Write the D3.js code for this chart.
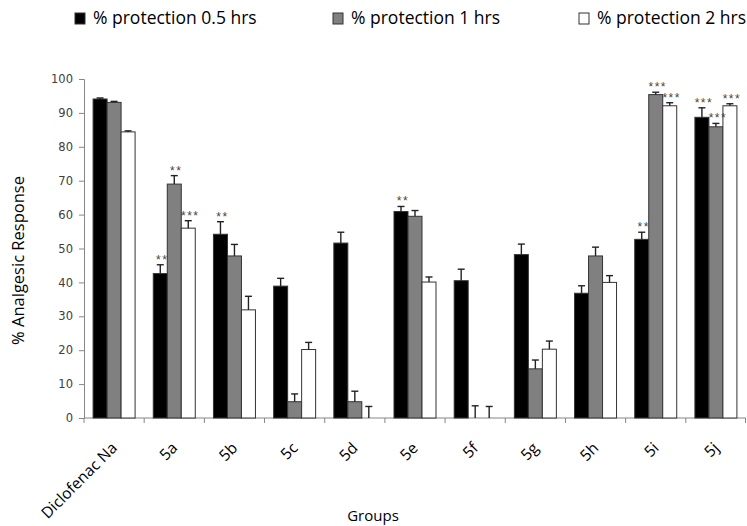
<!DOCTYPE html>
<html>
<head>
<meta charset="utf-8">
<script src="https://cdn.jsdelivr.net/npm/d3@7"></script>
<style>
  html, body { margin: 0; padding: 0; background: #fff; }
  svg { display: block; }
  text { font-family: "Open Sans", "Liberation Sans", sans-serif; }
</style>
</head>
<body>
<div id="chart"></div>
<script>
// groups on the x axis
const groups = ["Diclofenac Na", "5a", "5b", "5c", "5d", "5e", "5f", "5g", "5h", "5i", "5j"];
const series = ["% protection 0.5 hrs", "% protection 1 hrs", "% protection 2 hrs"];

// values
const values05 = [94.1, 42.6, 54.2, 38.9, 51.6, 60.9, 40.5, 48.2, 36.8, 52.7, 88.7];
const values1 = [93.1, 69.0, 47.8, 4.8, 4.8, 59.5, 0, 14.5, 47.8, 95.4, 85.9];
const values2 = [84.4, 56.0, 31.9, 20.2, 0, 40.1, 0, 20.3, 40.0, 92.1, 92.1];
const errors05 = [0.3, 2.6, 3.7, 2.3, 3.2, 1.5, 3.4, 3.1, 2.2, 2.1, 2.8];
const errors1 = [0.3, 2.5, 3.4, 2.3, 3.1, 1.7, 3.6, 2.6, 2.6, 0.7, 1.0];
const errors2 = [0.3, 2.2, 4.0, 2.1, 3.4, 1.5, 3.4, 2.4, 2.0, 0.9, 0.6];
const stars05 = ["", "**", "**", "", "", "**", "", "", "", "**", "***"];
const stars1 = ["", "**", "", "", "", "", "", "", "", "***", "***"];
const stars2 = ["", "***", "", "", "", "", "", "", "", "***", "***"];
const yTicks = [0, 10, 20, 30, 40, 50, 60, 70, 80, 90, 100];

const colors = ["#000000", "#808080", "#ffffff"];

const width = 747;
const height = 526;
const margin = { top: 79, right: 1, bottom: 108, left: 84 };

const svg = d3.select("#chart")
    .append("svg")
    .attr("width", width)
    .attr("height", height);

const x0 = d3.scaleBand()
    .domain(groups)
    .range([margin.left, width - margin.right])
    .paddingInner(0)
    .paddingOuter(0);

const x1 = d3.scaleBand()
    .domain(series)
    .range([0, x0.bandwidth()])
    .paddingInner(0)
    .paddingOuter(0.65);

const y = d3.scaleLinear()
    .domain([0, 100])
    .range([height - margin.bottom, margin.top]);

// flatten into rows
const rows = [];
groups.forEach((g, i) => {
    [values05, values1, values2].forEach((vals, s) => {
        rows.push({
            group: g,
            series: series[s],
            s: s,
            value: vals[i],
            err: [errors05, errors1, errors2][s][i],
            star: [stars05, stars1, stars2][s][i]
        });
    });
});

// y axis
const yAxis = svg.append("g")
    .attr("transform", `translate(${margin.left},0)`)
    .call(d3.axisLeft(y).tickValues(yTicks).tickSize(5).tickPadding(6));
yAxis.select(".domain").attr("stroke", "#868686");
yAxis.selectAll(".tick line").attr("stroke", "#868686");
yAxis.selectAll(".tick text")
    .attr("fill", "#404040")
    .style("font-family", "DejaVu Sans, sans-serif")
    .style("font-size", "11.5px");

// x axis: ticks at category boundaries
const xAxis = svg.append("g");
xAxis.append("line")
    .attr("x1", x0.range()[0]).attr("x2", x0.range()[1])
    .attr("y1", y(0)).attr("y2", y(0))
    .attr("stroke", "#868686");
xAxis.selectAll("line.tk")
    .data(groups.concat(["end"]))
    .enter().append("line")
    .attr("class", "tk")
    .attr("x1", (d, i) => i < groups.length ? x0(d) : x0.range()[1] - 0.5)
    .attr("x2", (d, i) => i < groups.length ? x0(d) : x0.range()[1] - 0.5)
    .attr("y1", y(0)).attr("y2", y(0) + 5)
    .attr("stroke", "#868686");
xAxis.selectAll("text")
    .data(groups)
    .enter().append("text")
    .attr("transform", d => `translate(${x0(d) + x0.bandwidth() / 2 + 4},${y(0) + 31}) rotate(-45)`)
    .attr("text-anchor", "end")
    .attr("fill", "#000")
    .style("font-size", "15.5px")
    .text(d => d);

// bars
const bars = svg.append("g");
bars.selectAll("rect")
    .data(rows.filter(d => d.value > 0))
    .enter().append("rect")
    .attr("x", d => x0(d.group) + x1(d.series))
    .attr("y", d => y(d.value))
    .attr("width", x1.bandwidth())
    .attr("height", d => y(0) - y(d.value))
    .attr("fill", d => colors[d.s])
    .attr("stroke", "#333")
    .attr("stroke-width", 1);

// error bars (upper only)
const errs = svg.append("g").attr("stroke", "#222").attr("stroke-width", 1.4);
rows.forEach(d => {
    const cx = x0(d.group) + x1(d.series) + x1.bandwidth() / 2;
    errs.append("line")
        .attr("x1", cx).attr("x2", cx)
        .attr("y1", y(d.value)).attr("y2", y(d.value + d.err));
    errs.append("line")
        .attr("x1", cx - 3.5).attr("x2", cx + 3.5)
        .attr("y1", y(d.value + d.err)).attr("y2", y(d.value + d.err));
});

// significance stars
svg.append("g").selectAll("text")
    .data(rows.filter(d => d.star))
    .enter().append("text")
    .attr("x", d => x0(d.group) + x1(d.series) + x1.bandwidth() / 2 + 2)
    .attr("y", d => y(d.value + d.err) - 1)
    .attr("text-anchor", "middle")
    .attr("fill", "#444")
    .style("font-family", "Liberation Sans, sans-serif")
    .style("font-size", "12px")
    .style("letter-spacing", "1.5px")
    .text(d => d.star);

// axis titles
svg.append("text")
    .attr("transform", `translate(24,${(y(0) + y(100)) / 2 + 12}) rotate(-90)`)
    .attr("text-anchor", "middle")
    .style("font-size", "16.5px")
    .text("% Analgesic Response");

svg.append("text")
    .attr("x", 373)
    .attr("y", 521)
    .attr("text-anchor", "middle")
    .style("font-size", "15px")
    .text("Groups");

// legend
const legendX = [75, 333, 579];
const legend = svg.append("g");
series.forEach((s, i) => {
    legend.append("rect")
        .attr("x", legendX[i]).attr("y", 13)
        .attr("width", 10).attr("height", 11)
        .attr("fill", colors[i])
        .attr("stroke", "#333");
    legend.append("text")
        .attr("x", legendX[i] + 18).attr("y", 24)
        .style("font-size", "17.5px")
        .text(s);
});
</script>
</body>
</html>
